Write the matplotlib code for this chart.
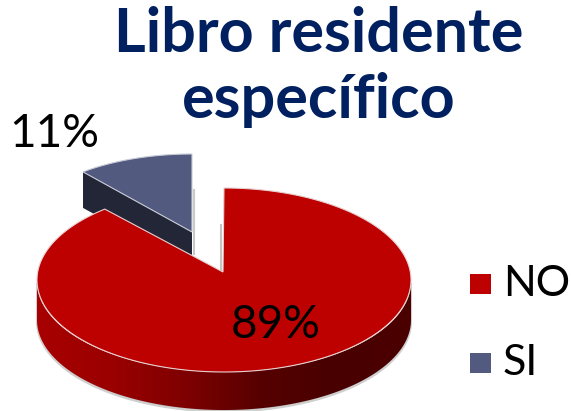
import numpy as np
import matplotlib
matplotlib.use('Agg')
import matplotlib.pyplot as plt
from matplotlib.patches import Polygon, Rectangle

categories = ['NO', 'SI']
values = [89, 11]
labels = ['89%', '11%']
colors = ['#BD0000', '#525B7F']
title_lines = ['Libro residente', 'específico']

plt.rcParams['font.family'] = ['Lato', 'DejaVu Sans']

fig = plt.figure(figsize=(5.71, 4.11), dpi=100)
ax = fig.add_axes([0, 0, 1, 1])
ax.set_xlim(0, 571)
ax.set_ylim(411, 0)
ax.axis('off')

total = sum(values)
si_angle = np.radians(360 * values[1] / total)

# 3d look: flat ellipses, the wall hangs below the red top
depth = 38
t = np.linspace(si_angle, 2 * np.pi, 300)
red_x = 224 - 187 * np.sin(t)
red_y = 280 - 92 * np.cos(t)

# red wall, only the front half of the ellipse shows
front = np.linspace(np.pi / 2, 3 * np.pi / 2, 200)
fx = 224 + 187 * np.sin(front)
fy = 282 - 90 * np.cos(front)
wall = np.column_stack([np.r_[fx, fx[::-1]], np.r_[fy, fy[::-1] + depth]])

# soft grey line under the wall
ax.add_patch(Polygon(wall + [0, 1.5], closed=True, fc='#BDBDBD', ec='#CFCFCF', lw=1.5, zorder=1))
wall_patch = Polygon(wall, closed=True, fc='none', ec='none', zorder=2)
ax.add_patch(wall_patch)
wall_cmap = matplotlib.colors.LinearSegmentedColormap.from_list(
    'wall', ['#A80000', '#9A0000', '#7E0000', '#560000', '#480000', '#4C0000'])
img = ax.imshow(np.linspace(0, 1, 256).reshape(1, -1), cmap=wall_cmap, aspect='auto',
                extent=[37, 411, 411, 270], zorder=2)
img.set_clip_path(wall_patch)
ax.set_xlim(0, 571)
ax.set_ylim(411, 0)

# red top, apex sits a bit above the ellipse centre
apex = (223, 272)
ax.add_patch(Polygon(np.column_stack([np.r_[apex[0], red_x], np.r_[apex[1], red_y]]),
                     closed=True, fc=colors[0], ec='#E8D0D0', lw=0.8, zorder=5))

# exploded SI slice
apex2 = (192, 232)
s = np.linspace(0, si_angle, 60)
si_x = apex2[0] - 171 * np.sin(s)
si_y = apex2[1] - 78 * np.cos(s)
side = [[si_x[-1], si_y[-1]], [apex2[0], apex2[1]], [apex2[0], apex2[1] + 36], [si_x[-1], si_y[-1] + 36]]
ax.add_patch(Polygon(side, closed=True, fc='#222637', ec='none', zorder=3))
ax.add_patch(Polygon(np.column_stack([np.r_[apex2[0], si_x], np.r_[apex2[1], si_y]]),
                     closed=True, fc=colors[1], ec='#C8CBD6', lw=0.8, zorder=4))

# little grey shadows in the gap
ax.plot([194, 194], [190, 254], color='#C9C9C9', lw=1.5, zorder=2)
ax.plot([221, 221], [225, 270], color='#C4C4C4', lw=1.5, zorder=6)

for line, y in zip(title_lines, [52, 118]):
    ax.text(319, y, line, ha='center', va='baseline', fontsize=44, fontweight='bold',
            color='#002060', zorder=10)
ax.text(54, 147, labels[1], ha='center', va='baseline', fontsize=33, color='black', zorder=10)
ax.text(276, 338, labels[0], ha='center', va='baseline', fontsize=33, color='black', zorder=10)

# legend
for cat, col, y in zip(categories, colors, [284, 363]):
    ax.add_patch(Rectangle((470, y - 10), 21, 20, fc=col, ec='none', zorder=10))
    ax.text(503, y, cat, ha='left', va='center', fontsize=31, color='black', zorder=10)

fig.savefig('out.png', dpi=100)
